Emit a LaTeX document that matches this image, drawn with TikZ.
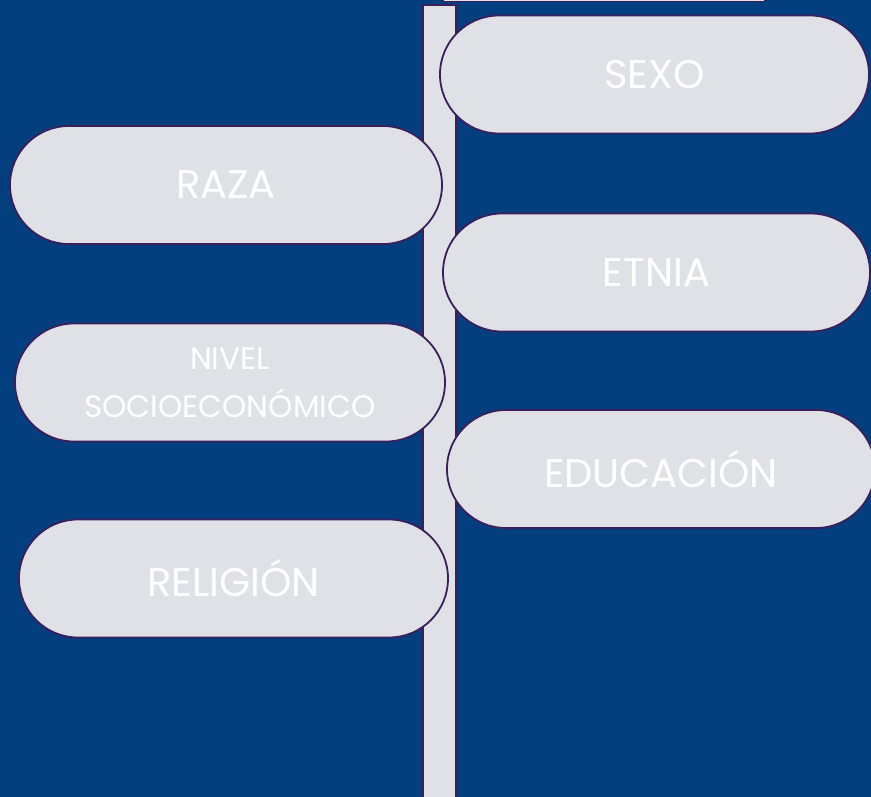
\documentclass[tikz,border=0pt]{standalone}
\usepackage{fontspec}
\setmainfont{Poppins}
\usetikzlibrary{positioning}
\definecolor{bgblue}{HTML}{033F7E}
\definecolor{pillgray}{HTML}{E0E1E6}
\definecolor{edgepurple}{HTML}{3B1F5C}
\tikzset{
    pill/.style={rectangle, rounded corners=58.9pt, draw=edgepurple, line width=1.8pt,
        fill=pillgray, text=white, minimum width=429pt, minimum height=118pt,
        inner sep=0pt, align=center, font=\fontsize{40}{48}\selectfont},
    smalltext/.style={font=\fontsize{31}{48}\selectfont}
}
\begin{document}
\begin{tikzpicture}[x=1pt,y=-1pt]
        \useasboundingbox (0,0) rectangle (871,797);
        \clip (0,0) rectangle (871,797);
        \fill[bgblue] (0,0) rectangle (871,797);
        \draw[edgepurple, line width=1.2pt, fill=pillgray] (443,-20) rectangle (765,1.2);
        \draw[edgepurple, line width=2pt, fill=pillgray] (423,5) rectangle (456,820);

        \node[pill] (sexo) at (654.5,74.5) {SEXO};
        \node[pill, minimum width=432pt] (raza) at (226,185) {RAZA};
        \node[pill, minimum width=427pt] (etnia) at (656.5,272.5) {ETNIA};
        \node[pill, minimum width=430pt, smalltext] (nivel) at (230,382.5) {NIVEL\\SOCIOECONÓMICO};
        \node[pill, minimum width=428pt] (educacion) at (661,469) {EDUCACIÓN};
        \node[pill] (religion) at (233.5,578.5) {RELIGIÓN};
    \end{tikzpicture}
\end{document}
